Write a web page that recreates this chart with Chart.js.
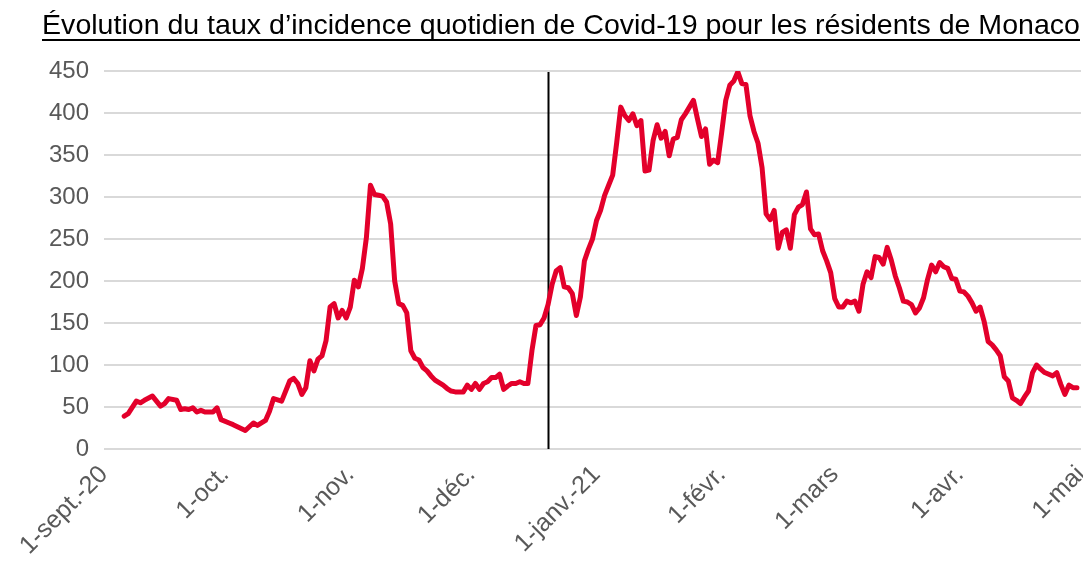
<!DOCTYPE html>
<html>
<head>
<meta charset="utf-8">
<script src="https://cdn.jsdelivr.net/npm/chart.js@4.4.1/dist/chart.umd.min.js"></script>
<style>
  html, body { margin: 0; padding: 0; background: #ffffff; }
  #c { display: block; }
</style>
</head>
<body>
<canvas id="c" width="1083" height="563"></canvas>
<script>
// Title
const chartTitle = "Évolution du taux d’incidence quotidien de Covid-19 pour les résidents de Monaco";

// Days counted from 1 September 2020 (day 0)
const days = [
  5, 6, 8, 9, 10, 12, 13, 14, 15, 16, 18, 19, 20, 21, 22, 23, 24, 25, 27, 28, 29, 31, 32, 35, 37, 38, 40, 41, 42, 44,
  46, 47, 48, 49, 50, 51, 52, 53, 54, 55, 56, 57, 58, 59, 60, 61, 62, 63, 64, 65, 66, 67, 68, 69, 70, 71, 72, 73,
  74, 75, 76, 77, 78, 79, 80, 81, 82, 83, 84, 85, 86, 87, 88, 89, 90, 91, 92, 93, 94, 95, 96, 97, 98, 99, 100,
  101, 102, 103, 104, 105, 106, 107, 108, 109, 110, 111, 112, 113, 114, 115, 116, 117, 118, 119, 120,
  121, 122, 123, 124, 125, 126, 127, 128, 129, 130, 131, 132, 133, 134, 135, 136, 137, 138, 139, 140,
  141, 142, 143, 144, 145, 146, 147, 148, 149, 150, 151, 152, 153, 154, 155, 156, 157, 158, 159, 160,
  161, 162, 163, 164, 165, 166, 167, 168, 169, 170, 171, 172, 173, 174, 175, 176, 177, 178, 179, 180,
  181, 182, 183, 184, 185, 186, 187, 188, 189, 190, 191, 192, 193, 194, 195, 196, 197, 198, 199, 200,
  201, 202, 203, 204, 205, 206, 207, 208, 209, 210, 211, 212, 213, 214, 215, 216, 217, 218, 219, 220,
  221, 222, 223, 224, 225, 226, 227, 228, 229, 230, 231, 232, 233, 235, 236, 237, 238, 239, 240, 241
];

// Daily incidence rate
const incidence = [
  39, 42, 57, 55, 58, 63, 57, 51, 54, 60, 58, 47, 48, 47, 49, 44, 46, 44, 44, 49, 35, 31, 29, 22, 31, 28, 34, 45, 60, 57,
  81, 84, 78, 65, 73, 105, 93, 107, 111, 129, 169, 173, 156, 165, 156, 169, 201, 193, 215, 252, 314, 303, 302, 301, 294, 268, 200, 173,
  171, 162, 117, 108, 106, 97, 93, 87, 82, 79, 76, 72, 69, 68, 68, 68, 76, 71, 78, 71, 78, 80, 85, 85, 89, 71, 75,
  78, 78, 80, 78, 78, 117, 147, 148, 156, 172, 196, 212, 216, 193, 192, 185, 159, 181, 224, 238,
  250, 272, 284, 302, 314, 326, 365, 407, 397, 391, 399, 385, 391, 331, 332, 367, 386, 370, 378, 349,
  369, 371, 392, 399, 407, 415, 393, 372, 381, 339, 344, 341, 377, 415, 433, 438, 449, 435, 434, 397,
  378, 364, 335, 280, 273, 284, 239, 258, 261, 239, 279, 288, 291, 306, 262, 255, 256, 236, 224, 210,
  179, 169, 169, 176, 174, 176, 164, 196, 211, 204, 229, 228, 220, 240, 225, 206, 192, 176, 175, 172,
  162, 168, 180, 202, 219, 211, 222, 217, 215, 203, 202, 188, 187, 182, 174, 164, 169, 152, 128, 124,
  118, 111, 86, 81, 61, 58, 54, 62, 69, 91, 100, 95, 91, 87, 91, 77, 65, 76, 73, 73
];

// Month ticks (day offsets) and their labels
const monthTickDays = [0, 30, 61, 91, 122, 153, 181, 212, 242];
const monthTickLabels = ['1-sept.-20', '1-oct.', '1-nov.', '1-déc.', '1-janv.-21', '1-févr.', '1-mars', '1-avr.', '1-mai'];

// Y axis ticks
const yTicks = [0, 50, 100, 150, 200, 250, 300, 350, 400, 450];

// Vertical marker (day offset)
const markerDay = 110;

const points = days.map((d, i) => ({ x: d, y: incidence[i] }));

const titlePlugin = {
  id: 'underlinedTitle',
  afterDraw(chart) {
    const ctx = chart.ctx;
    ctx.save();
    const targetW = 1038;
    ctx.font = '24px "Liberation Sans", Arial, sans-serif';
    const w24 = ctx.measureText(chartTitle).width;
    const size = 24 * targetW / w24;
    ctx.font = size.toFixed(2) + 'px "Liberation Sans", Arial, sans-serif';
    ctx.fillStyle = '#000000';
    ctx.textAlign = 'center';
    ctx.textBaseline = 'alphabetic';
    const cx = 561;
    ctx.fillText(chartTitle, cx, 34);
    ctx.strokeStyle = '#000000';
    ctx.lineWidth = 2;
    ctx.beginPath();
    ctx.moveTo(cx - targetW / 2, 40);
    ctx.lineTo(cx + targetW / 2, 40);
    ctx.stroke();
    ctx.restore();
  }
};

const markerPlugin = {
  id: 'marker',
  beforeDatasetsDraw(chart) {
    const { ctx, scales } = chart;
    const x = Math.round(scales.x.getPixelForValue(markerDay)) + 0.5;
    ctx.save();
    ctx.strokeStyle = '#000000';
    ctx.lineWidth = 2;
    ctx.beginPath();
    ctx.moveTo(x, scales.y.getPixelForValue(450) + 1);
    ctx.lineTo(x, scales.y.getPixelForValue(0));
    ctx.stroke();
    ctx.restore();
  }
};

new Chart(document.getElementById('c'), {
  type: 'line',
  data: {
    datasets: [{
      data: points,
      borderColor: '#E3002B',
      borderWidth: 5,
      pointRadius: 0,
      tension: 0,
      fill: false,
      borderJoinStyle: 'round',
      borderCapStyle: 'round'
    }]
  },
  options: {
    responsive: false,
    animation: false,
    devicePixelRatio: 1,
    layout: { padding: { left: 0, top: 71, right: 2, bottom: 0 } },
    plugins: {
      legend: { display: false },
      title: { display: false },
      tooltip: { enabled: false }
    },
    scales: {
      x: {
        type: 'linear',
        min: 0,
        max: 242,
        grid: { display: false },
        border: { display: false },
        afterBuildTicks(scale) {
          scale.ticks = monthTickDays.map(v => ({ value: v }));
        },
        afterFit(scale) {
          scale.height = 563 - 449;
          scale.paddingLeft = 0;
          scale.paddingRight = 0;
        },
        ticks: {
          autoSkip: false,
          maxRotation: 45,
          minRotation: 45,
          padding: 3,
          color: '#595959',
          font: { family: '"Liberation Sans", Arial, sans-serif', size: 25 },
          callback(value) {
            const i = monthTickDays.indexOf(value);
            return i >= 0 ? monthTickLabels[i] : '';
          }
        }
      },
      y: {
        min: 0,
        max: 450,
        grid: { color: '#d9d9d9', lineWidth: 2, drawTicks: false },
        border: { display: false },
        afterBuildTicks(scale) {
          scale.ticks = yTicks.map(v => ({ value: v }));
        },
        afterFit(scale) {
          scale.width = 104;
          scale.paddingTop = 0;
          scale.paddingBottom = 0;
        },
        ticks: {
          padding: 15,
          color: '#595959',
          font: { family: '"Liberation Sans", Arial, sans-serif', size: 24 }
        }
      }
    }
  },
  plugins: [titlePlugin, markerPlugin]
});
</script>
</body>
</html>
